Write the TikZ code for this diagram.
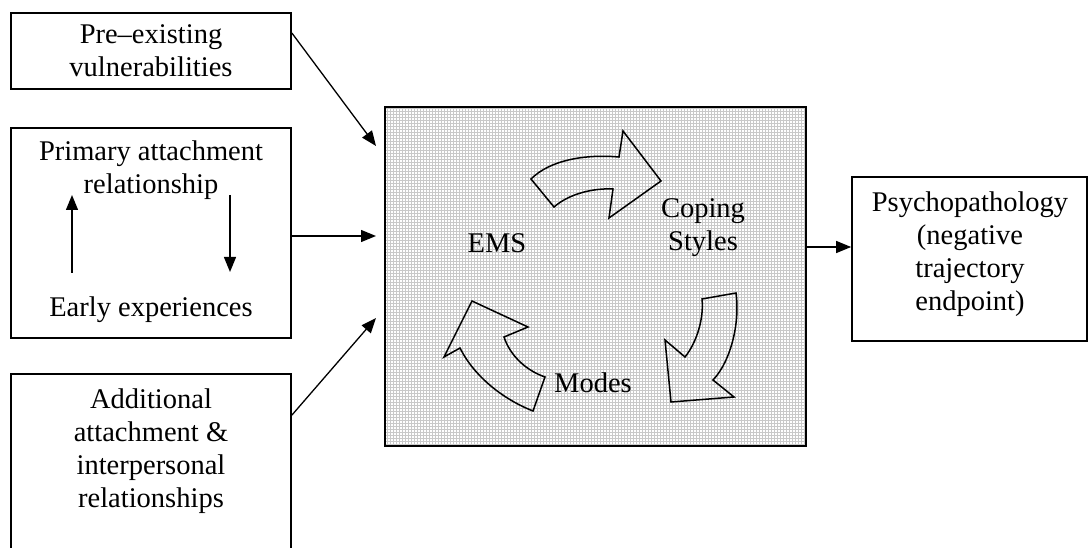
\documentclass[tikz,border=0pt]{standalone}
\usepackage{fontspec}
\setmainfont{Liberation Serif}
\usetikzlibrary{arrows.meta}
\begin{document}
\begin{tikzpicture}[x=1pt,y=-1pt,
  txt/.style={font=\fontsize{28.5}{33}\selectfont, align=center, inner sep=0pt},
  box/.style={draw, line width=1.7pt, inner sep=0pt},
  conn/.style={line width=1.3pt, -{Triangle[length=15pt,width=12pt]}},
  blk/.style={draw, line width=1.5pt, line join=miter}]
\useasboundingbox (0,0) rectangle (1088,548);

% left boxes
\node[box, txt, minimum width=280pt, minimum height=76pt] (b1) at (151,51) {Pre–existing\\vulnerabilities};
\node[box, minimum width=280pt, minimum height=210pt] (b2) at (151,233) {};
\node[txt] (t2a) at (151,170) {Primary attachment\\relationship};
\node[txt] (t2b) at (151,310) {Early experiences};
\node[box, minimum width=280pt, minimum height=196pt] (b3) at (151,472) {};
\node[txt] (t3) at (151,451) {Additional\\attachment \&\\interpersonal\\relationships};

% inner arrows of box 2
\coordinate (u1) at (72,273);
\coordinate (u2) at (72,195);
\coordinate (d1) at (230,195);
\coordinate (d2) at (230,272);
\draw[conn] (u1) -- (u2);
\draw[conn] (d1) -- (d2);

% central box
\fill[white] (385,107) rectangle (806,446);
\draw[step=3pt, gray!42, line width=0.65pt] (385,446) grid (806,107);
\node[box, minimum width=421pt, minimum height=339pt] (core) at (595.5,276.5) {};
\node[txt] (ems) at (497,243) {EMS};
\node[txt] (cope) at (703,228) {Coping\\Styles};
\node[txt] (modes) at (593,383) {Modes};

% cycle block arrows
\draw[blk] (531,179) .. controls (550,160) and (585,154) .. (619,157) -- (623,131) -- (661,181) -- (609,218) -- (613,189) .. controls (595,188) and (570,193) .. (554,207) -- cycle;
\draw[blk] (702,299) -- (736,293) .. controls (740,320) and (732,360) .. (713,380) -- (734,397) -- (671,402) -- (665,340) -- (685,357) .. controls (697,342) and (704,318) .. cycle;
\draw[blk] (545,377) -- (533,411) .. controls (505,400) and (475,378) .. (460,348) -- (444,357) -- (472,301) -- (528,327) -- (504,337) .. controls (510,355) and (525,370) .. cycle;

% right box
\node[box, minimum width=235pt, minimum height=164pt] (rb) at (969.5,259) {};
\node[txt] (tr) at (970,254) {Psychopathology\\(negative\\trajectory\\endpoint)};

% connectors
\coordinate (e1) at (376,146);
\coordinate (e2) at (376,236);
\coordinate (e3) at (376,318);
\draw[conn] ([yshift=18pt]b1.east) -- (e1);
\draw[conn] ([yshift=-3pt]b2.east) -- (e2);
\draw[conn] ([yshift=-42pt]b3.north east) -- (e3);
\draw[conn] ([yshift=29.5pt]core.east) -- ([yshift=12pt]rb.west);
\end{tikzpicture}
\end{document}
